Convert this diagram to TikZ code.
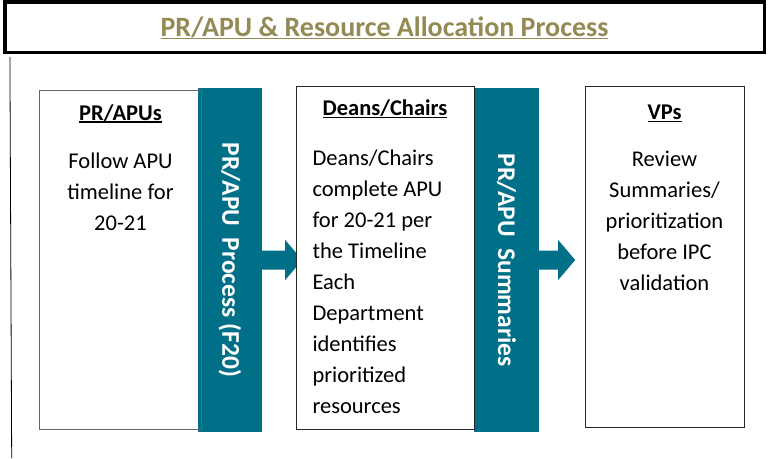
\documentclass[tikz,border=0pt]{standalone}
\usepackage{fontspec}
\setmainfont{Carlito}
\usetikzlibrary{backgrounds,shadows}
\definecolor{barteal}{RGB}{0,112,136}
\definecolor{titletan}{RGB}{148,138,84}
\newcommand\ulword[1]{\setbox0\hbox{#1}\rlap{\rule[-2.5pt]{\wd0}{1.6pt}}\box0}
\tikzset{titlebox/.style={draw=black, line width=3.6pt, inner sep=0pt}}
\tikzset{stage/.style={draw=black!85, line width=0.8pt, inner sep=0pt}}
\tikzset{bar/.style={fill=barteal, inner sep=0pt}}
\tikzset{bartext/.style={white, rotate=-90, inner sep=0pt, font=\bfseries\fontsize{25.5}{30}\selectfont}}
\tikzset{heading/.style={anchor=base, inner sep=0pt, font=\bfseries\fontsize{22.5}{31}\selectfont}}
\tikzset{body/.style={anchor=base, inner sep=0pt, align=center, font=\fontsize{22.5}{31}\selectfont}}
\tikzset{flow/.style={fill=barteal}}
\begin{document}
\begin{tikzpicture}[x=1pt,y=-1pt]
\useasboundingbox (0,0) rectangle (768,458);
% title
\node[titlebox, minimum width=759.5pt, minimum height=50.8pt] (title) at (384.75,27.1) {};
\node[anchor=base, inner sep=0pt, text=titletan, font=\bfseries\fontsize{28}{32}\selectfont] (titletext) at (384.5,36.7) {\ulword{PR/APU \& Resource Allocation Process}};
\draw[line width=0.8pt] ([xshift=6.7pt,yshift=-2.5pt]title.south west) -- (11.7,458);
% bars
\node[bar, minimum width=64pt, minimum height=344pt] (bar1) at (230,260) {};
\node[bar, minimum width=65pt, minimum height=344pt] (bar2) at (506.5,260) {};
\node[bartext] (bar1text) at (bar1.center) {PR/APU\ \ Process (F20)};
\node[bartext] (bar2text) at (bar2.center) {PR/APU\ \ Summaries};
% stages
\node[stage, draw=black!60, minimum width=162pt, minimum height=339pt] (apus) at (120.5,259.5) {};
\node[stage, fill=white, minimum width=178pt, minimum height=343pt] (deans) at (385,257.5) {};
\node[stage, fill=white, drop shadow={shadow xshift=1pt,shadow yshift=-1.2pt,fill=black!25}, minimum width=159pt, minimum height=341pt] (vps) at (664.5,256.5) {};
% texts (base = last line)
\node[heading] (apushead) at ([yshift=-30.7pt]apus.north) {\ulword{PR/APUs}};
\node[body] (apusbody) at ([yshift=-141pt]apus.north) {Follow APU\\timeline for\\20-21};
\node[heading] (deanshead) at ([yshift=-30pt]deans.north) {\ulword{Deans/Chairs}};
\node[body, anchor=base west, align=left] (deansbody) at ([xshift=16.7pt,yshift=-328pt]deans.north west) {Deans/Chairs\\complete APU\\for 20-21 per\\the Timeline\\Each\\Department\\identifies\\prioritized\\resources};
\node[heading] (vpshead) at ([yshift=-34pt]vps.north) {\ulword{VPs}};
\node[body] (vpsbody) at ([yshift=-205pt]vps.north) {Review\\Summaries/\\prioritization\\before IPC\\validation};
% block arrows
\begin{scope}[on background layer]
\fill[flow] ([yshift=9.5pt]bar1.east) -- ++(23,0) -- ++(0,-10.5) -- ++(17,20) -- ++(-17,20) -- ++(0,-10.5) -- ([yshift=-9.5pt]bar1.east) -- cycle;
\fill[flow] ([yshift=9.5pt]bar2.east) -- ++(19,0) -- ++(0,-10.5) -- ++(17,20) -- ++(-17,20) -- ++(0,-10.5) -- ([yshift=-9.5pt]bar2.east) -- cycle;
\end{scope}
\end{tikzpicture}
\end{document}
